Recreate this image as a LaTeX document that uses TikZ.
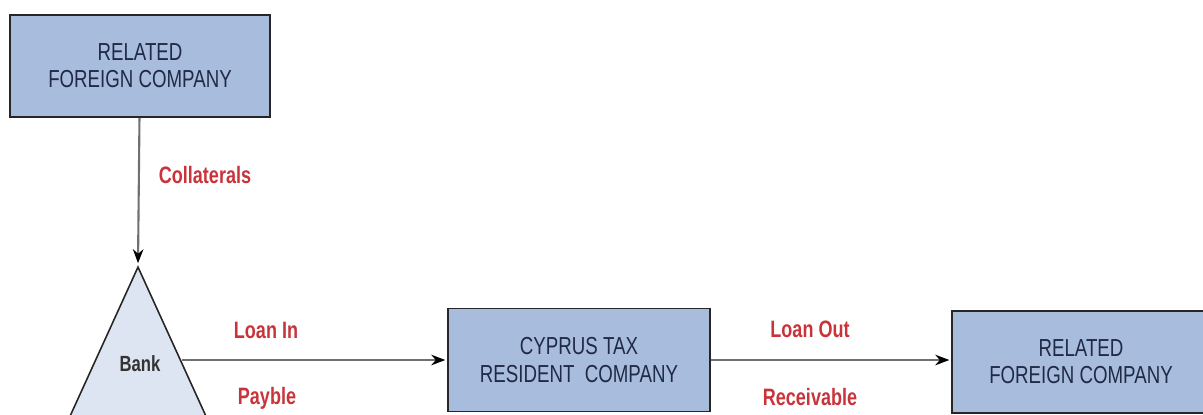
\documentclass[tikz,border=0pt]{standalone}
\usepackage{fontspec}
\setmainfont{Liberation Sans}
\newfontfamily\boxfont[FakeStretch=0.76]{Liberation Sans}
\usepackage{tikz}
\usetikzlibrary{shapes,arrows,arrows.meta}
\definecolor{boxblue}{RGB}{168,189,222}
\definecolor{bankblue}{RGB}{221,229,243}
\definecolor{boxtext}{RGB}{32,42,70}
\definecolor{flowred}{RGB}{200,52,58}
\definecolor{flowgray}{RGB}{112,112,112}
\tikzstyle{entity} = [draw=black!85, fill=boxblue, line width=1.1pt, align=center, text=boxtext, font=\boxfont\fontsize{14}{15.5}\selectfont, minimum width=5.2cm, minimum height=2.04cm]
\tikzstyle{flow} = [text=flowred, font=\boxfont\bfseries\fontsize{13.5}{15}\selectfont]
\tikzstyle{link} = [draw=flowgray, line width=1.2pt]

\begin{document}
\begin{tikzpicture}[x=0.02cm,y=-0.02cm,->,>={Stealth[black,length=8pt,width=6pt]},shorten >=1pt,auto]
\useasboundingbox (0,0) rectangle (1203,414);
\clip (0,0) rectangle (1203,414);

\node[entity] (top) at (140,66) {RELATED\\FOREIGN COMPANY};
\node[draw=black!85, fill=bankblue, line width=0.9pt, isosceles triangle, shape border rotate=90, isosceles triangle stretches, minimum width=3.92cm, minimum height=4.3cm, anchor=apex, inner sep=0pt] (bank) at (138,265) {};
\node[font=\boxfont\bfseries\fontsize{12.5}{14}\selectfont, text=black!80] (banklbl) at (140,364) {Bank};
\coordinate (bankr) at (182,360);
\node[entity, minimum width=5.24cm, minimum height=2.06cm] (cyprus) at (579,360) {CYPRUS TAX\\RESIDENT\ \ COMPANY};
\node[entity, minimum width=5.16cm] (foreign) at (1081,362) {RELATED\\FOREIGN COMPANY};

\node[flow] (coll) at (205,175) {Collaterals};
\node[flow] (loanin) at (266,330) {Loan In};
\node[flow] (payble) at (267,398) {Payble};
\node[flow] (loanout) at (810,329) {Loan Out};
\node[flow] (recv) at (810,397) {Receivable};

\path
(top) edge [link] node {} (bank.apex)
(bankr) edge [link] node {} (cyprus.west)
(cyprus.east) edge [link] node {} (foreign.west |- cyprus.east);
\end{tikzpicture}
\end{document}
